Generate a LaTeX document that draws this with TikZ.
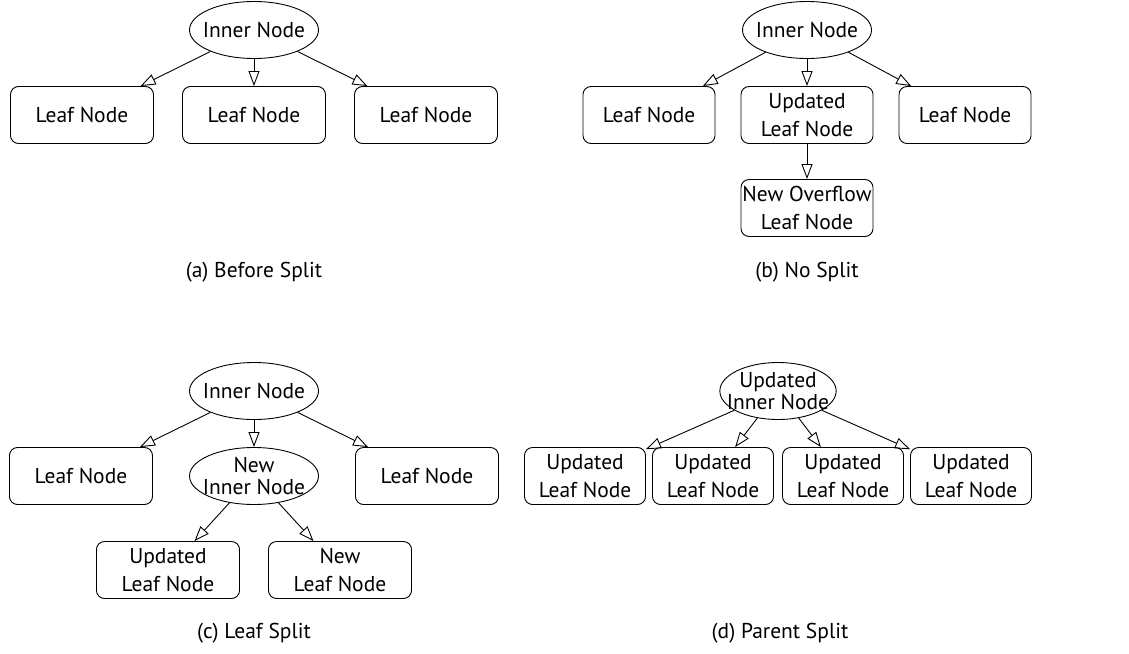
\documentclass[tikz,border=0pt]{standalone}
\usepackage{fontspec}
\setmainfont{PT Sans}
\usetikzlibrary{shapes.geometric,arrows.meta}

\begin{document}
\begin{tikzpicture}[
        x=1pt, y=-1pt,
        inner/.style={ellipse, draw=black, line width=0.9pt, inner xsep=-6pt, inner ysep=-2pt, minimum width=129, minimum height=57, align=center, font=\fontsize{21.5}{22}\selectfont},
        leaf/.style={rectangle, draw=black, line width=0.9pt, rounded corners=8, inner sep=0pt, minimum width=143, minimum height=57, align=center, font=\fontsize{21.5}{28}\selectfont},
        caption/.style={font=\fontsize{21.5}{24}\selectfont},
        arrow/.style={-{Triangle[open, length=15, width=11]}, line width=0.9pt}
    ]
    \useasboundingbox (0,0) rectangle (1129,653);

    % (a) Before Split
    \node[inner] (ainner) at (254,30) {Inner Node};
    \node[leaf] (aleafa) at (82,115) {Leaf Node};
    \node[leaf] (aleafb) at (254,115) {Leaf Node};
    \node[leaf] (aleafc) at (426,115) {Leaf Node};
    \node[caption] (acap) at (254,272) {(a) Before Split};
    \draw[arrow] (ainner) -- (aleafa);
    \draw[arrow] (ainner) -- (aleafb);
    \draw[arrow] (ainner) -- (aleafc);

    % (b) No Split
    \node[inner] (binner) at (807,30) {Inner Node};
    \node[leaf, minimum width=132] (bleafa) at (649,115) {Leaf Node};
    \node[leaf, minimum width=132] (bleafb) at (807,115) {Updated\\Leaf Node};
    \node[leaf, minimum width=132] (bleafc) at (965,115) {Leaf Node};
    \node[leaf, minimum width=132] (bover) at (807,208) {New Overflow\\Leaf Node};
    \node[caption] (bcap) at (807,272) {(b) No Split};
    \draw[arrow] (binner) -- (bleafa);
    \draw[arrow] (binner) -- (bleafb);
    \draw[arrow] (binner) -- (bleafc);
    \draw[arrow] (bleafb) -- (bover);

    % (c) Leaf Split
    \node[inner] (cinner) at (254,391) {Inner Node};
    \node[leaf] (cleafa) at (81,476) {Leaf Node};
    \node[inner] (cnewinner) at (254,476) {New\\Inner Node};
    \node[leaf] (cleafc) at (427,476) {Leaf Node};
    \node[leaf] (cupd) at (168,570) {Updated\\Leaf Node};
    \node[leaf] (cnew) at (340,570) {New\\Leaf Node};
    \node[caption] (ccap) at (254,633) {(c) Leaf Split};
    \draw[arrow] (cinner) -- (cleafa);
    \draw[arrow] (cinner) -- (cnewinner);
    \draw[arrow] (cinner) -- (cleafc);
    \draw[arrow] (cnewinner) -- (cupd);
    \draw[arrow] (cnewinner) -- (cnew);

    % (d) Parent Split
    \node[inner, inner xsep=-10pt, minimum width=110] (dinner) at (778,391) {Updated\\Inner Node};
    \node[leaf, minimum width=121] (dleafa) at (585,476) {Updated\\Leaf Node};
    \node[leaf, minimum width=121] (dleafb) at (713,476) {Updated\\Leaf Node};
    \node[leaf, minimum width=121] (dleafc) at (843,476) {Updated\\Leaf Node};
    \node[leaf, minimum width=121] (dleafd) at (971,476) {Updated\\Leaf Node};
    \node[caption] (dcap) at (780,633) {(d) Parent Split};
    \draw[arrow] (dinner) -- (dleafa);
    \draw[arrow] (dinner) -- (dleafb);
    \draw[arrow] (dinner) -- (dleafc);
    \draw[arrow] (dinner) -- (dleafd);
\end{tikzpicture}
\end{document}
